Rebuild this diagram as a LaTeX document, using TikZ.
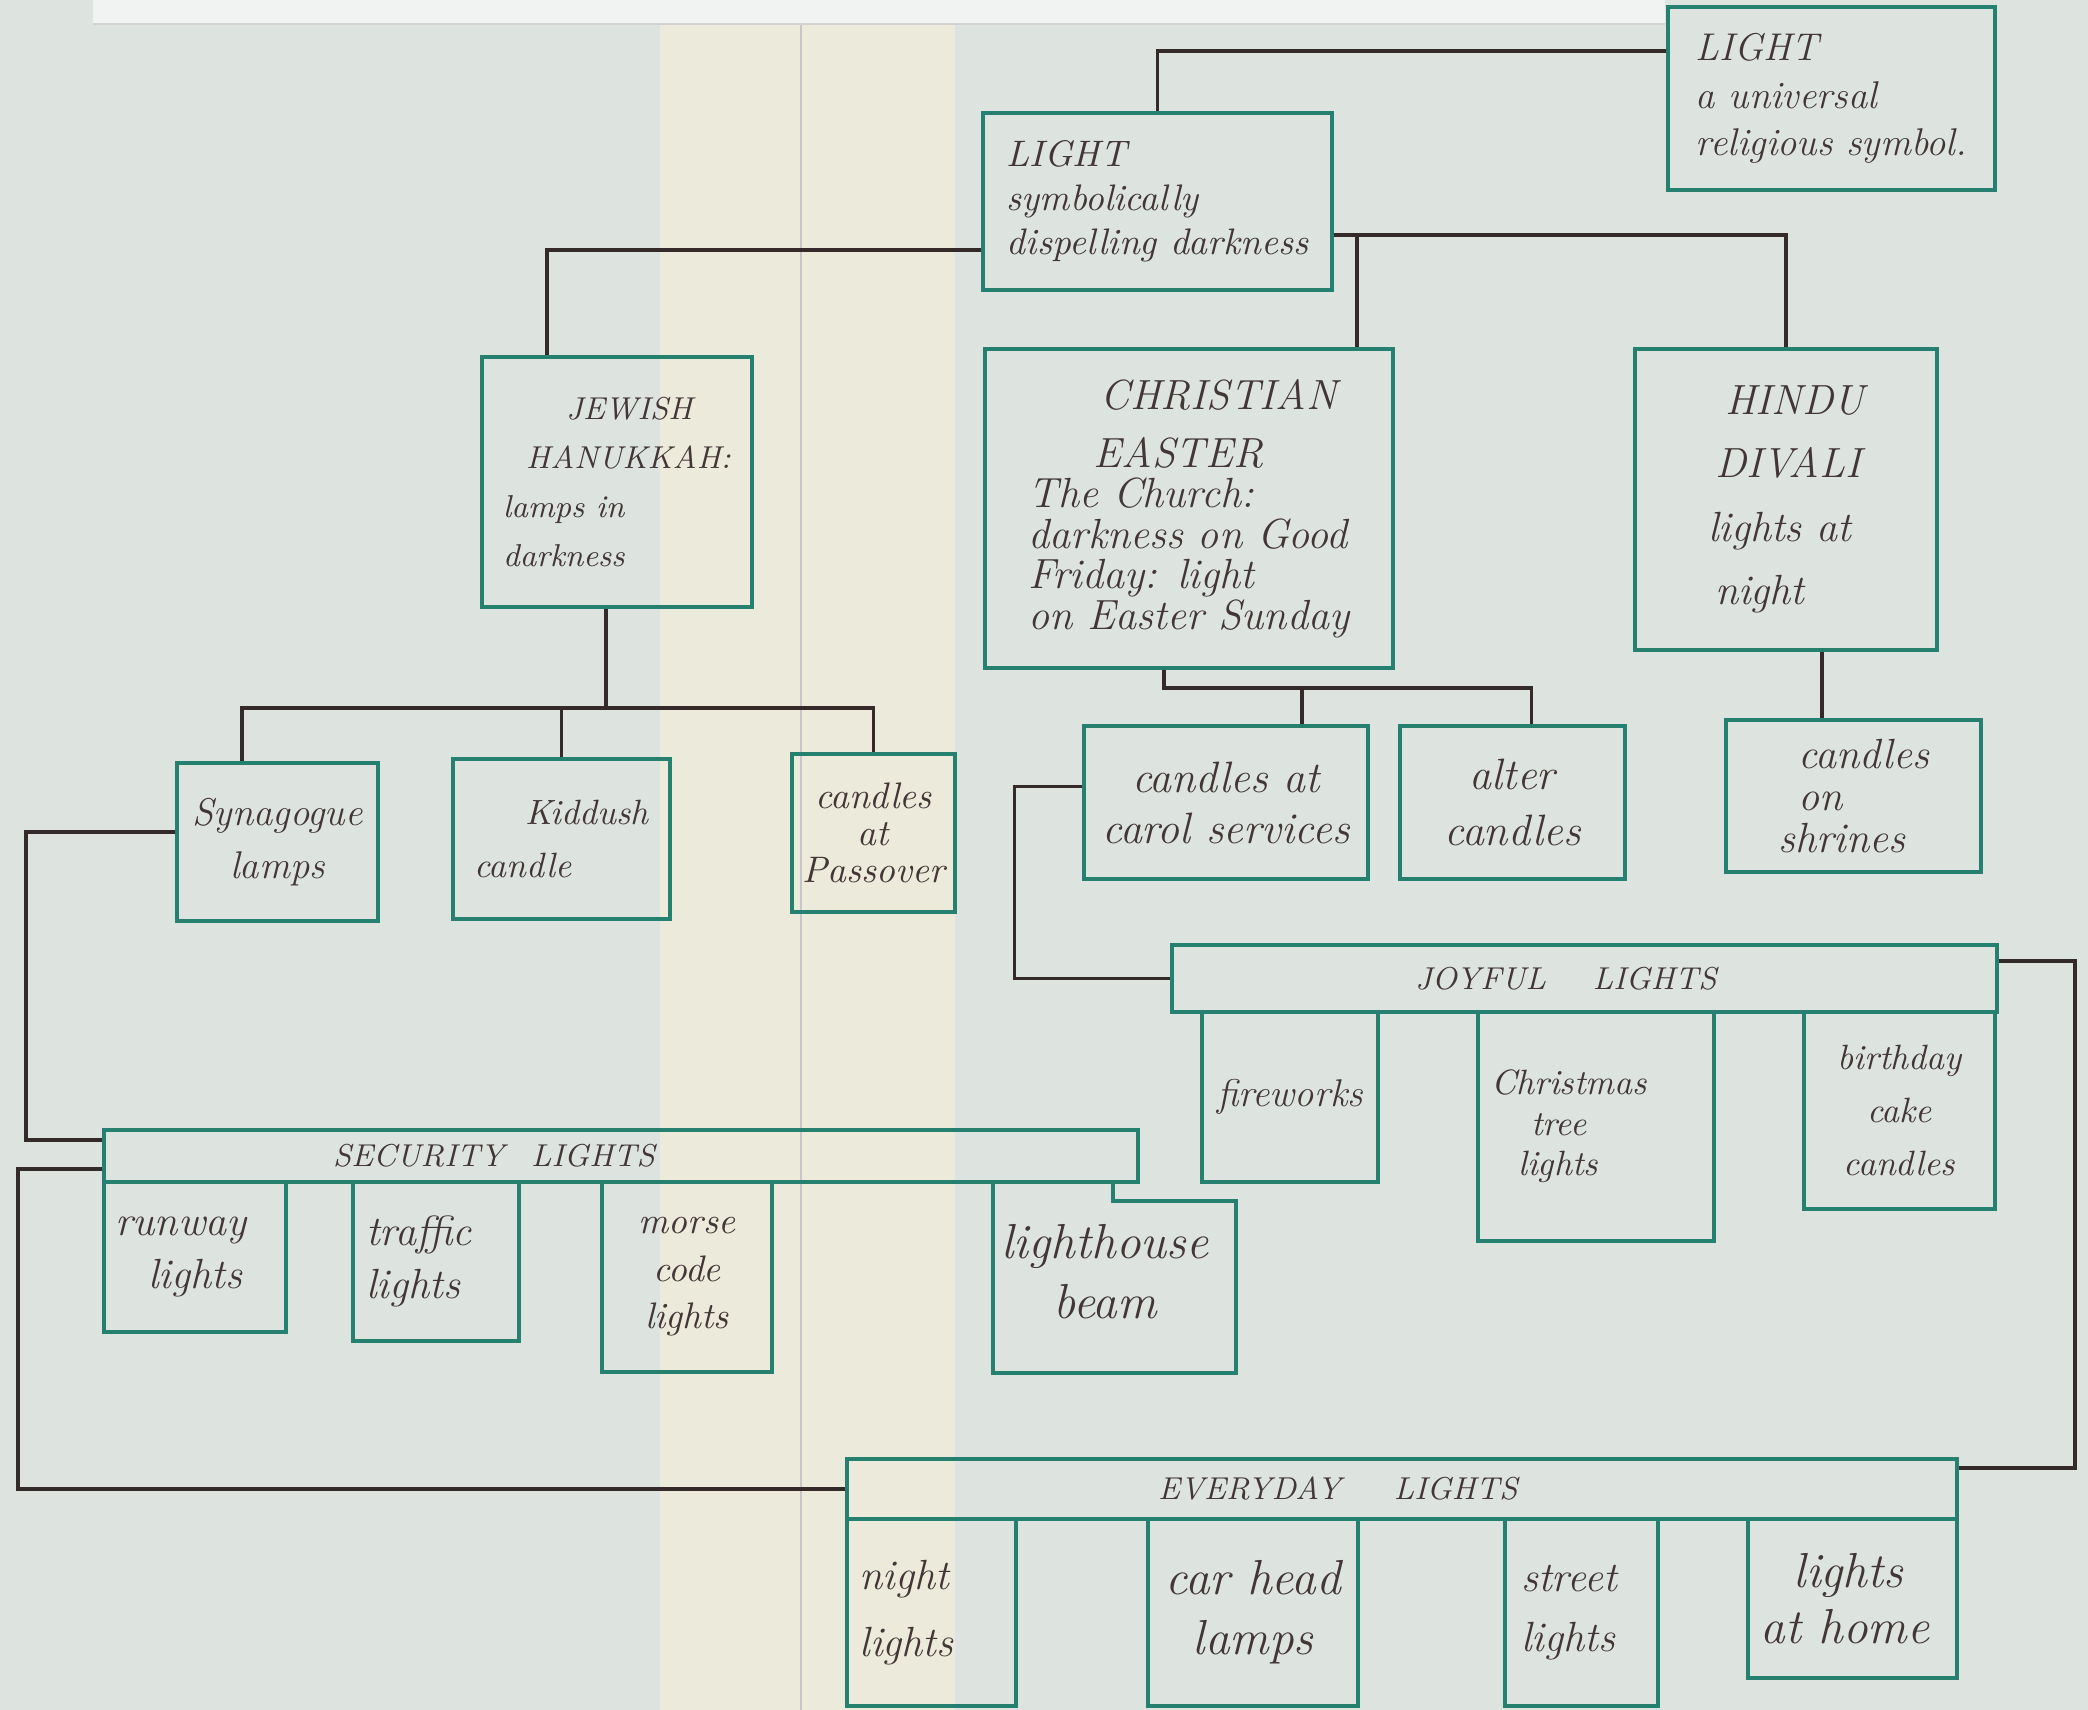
\documentclass[tikz,border=0pt]{standalone}
\usepackage{fontspec}

\definecolor{paper}{RGB}{221,228,224}
\definecolor{foldband}{RGB}{236,235,219}
\definecolor{penteal}{RGB}{38,128,112}
\definecolor{ink}{RGB}{66,54,54}
\definecolor{inkline}{RGB}{52,42,42}

\begin{document}
\begin{tikzpicture}[
    box/.style={draw=penteal, line width=0.9pt, inner sep=1mm, align=center,
      text=ink, font=\fontsize{12}{15}\selectfont\itshape},
    hdr/.style={box, align=left, font=\fontsize{9}{10}\selectfont\itshape},
    link/.style={draw=inkline, line width=1.1pt},
  ]
  \useasboundingbox (0,0) rectangle (20.88,-17.10);
  \clip (0,0) rectangle (20.88,-17.10);

  % paper, fold and the cut-off strip along the top
  \fill[paper] (0,0) rectangle (20.88,-17.10);
  \fill[foldband] (6.60,0) rectangle (9.55,-17.10);
  \draw[black!22, line width=0.6pt] (8.01,0) -- (8.01,-17.10);
  \fill[white!55!paper] (0.93,0) rectangle (16.65,-0.24);
  \draw[black!18] (0.93,-0.24) -- (16.65,-0.24);

  % top of the tree
  \node[box, minimum width=3.27cm, minimum height=1.83cm, align=left,
        font=\fontsize{11}{13.5}\selectfont\itshape] (univ) at (18.315,-0.985)
        {LIGHT\\a universal\\religious symbol.};
  \node[box, minimum width=3.49cm, minimum height=1.77cm, align=left,
        font=\fontsize{10.5}{12.5}\selectfont\itshape] (sym) at (11.575,-2.015)
        {LIGHT\\symbolically\\dispelling darkness};

  % the three festivals
  \node[box, minimum width=2.70cm, minimum height=2.50cm, align=left,
        font=\fontsize{9}{14}\selectfont\itshape] (jew) at (6.17,-4.82)
        {\hspace*{0.63cm}JEWISH\\\hspace*{0.23cm}HANUKKAH:\\lamps in\\darkness};
  \node[box, minimum width=4.08cm, minimum height=3.19cm, align=left,
        font=\fontsize{12}{11.5}\selectfont\itshape] (chr) at (11.89,-5.085)
        {\hspace*{0.72cm}CHRISTIAN\\[5pt]\hspace*{0.65cm}EASTER\\The Church:\\darkness on Good\\Friday: light\\on Easter Sunday};
  \node[box, minimum width=3.02cm, minimum height=3.01cm, align=left,
        font=\fontsize{12}{18}\selectfont\itshape] (hindu) at (17.86,-4.995)
        {\hspace*{0.17cm}HINDU\\\hspace*{0.07cm}DIVALI\\lights at\hspace*{0.8cm}\\\hspace*{0.07cm}night};

  % festival lights
  \node[box, minimum width=2.01cm, minimum height=1.58cm,
        font=\fontsize{11}{15}\selectfont\itshape] (syn) at (2.775,-8.42) {Synagogue\\lamps};
  \node[box, minimum width=2.17cm, minimum height=1.60cm, align=left,
        font=\fontsize{10}{15}\selectfont\itshape] (kid) at (5.615,-8.39) {\hspace*{0.51cm}Kiddush\\candle};
  \node[box, minimum width=1.63cm, minimum height=1.58cm,
        font=\fontsize{10.5}{10.5}\selectfont\itshape] (pass) at (8.735,-8.33) {candles\\at\\Passover};
  \node[box, minimum width=2.84cm, minimum height=1.53cm,
        font=\fontsize{12.5}{14.5}\selectfont\itshape] (carol) at (12.26,-8.025) {candles at\\carol services};
  \node[box, minimum width=2.25cm, minimum height=1.53cm,
        font=\fontsize{12.5}{16}\selectfont\itshape] (alt) at (15.125,-8.025) {alter\\candles};
  \node[box, minimum width=2.55cm, minimum height=1.52cm, align=left,
        font=\fontsize{12}{12}\selectfont\itshape] (shr) at (18.535,-7.96) {\hspace*{0.2cm}candles\\\hspace*{0.2cm}on\\shrines};

  % joyful lights
  \node[hdr, minimum width=8.25cm, minimum height=0.67cm, text width=8.05cm] (joy) at (15.845,-9.785)
        {\noindent\hspace*{2.33cm}JOYFUL\hspace{0.47cm}LIGHTS};
  \node[box, minimum width=1.76cm, minimum height=1.70cm,
        font=\fontsize{11}{13}\selectfont\itshape] (fire) at (12.90,-10.97) {fireworks};
  \node[box, minimum width=2.36cm, minimum height=2.29cm, align=left,
        font=\fontsize{10}{11.5}\selectfont\itshape] (xmas) at (15.96,-11.265)
        {Christmas\hspace*{0.54cm}\\\hspace*{0.4cm}tree\\\hspace*{0.27cm}lights};
  \node[box, minimum width=1.91cm, minimum height=1.97cm,
        font=\fontsize{10}{15}\selectfont\itshape] (bday) at (18.995,-11.105) {birthday\\cake\\candles};

  % security lights
  \node[hdr, minimum width=10.34cm, minimum height=0.52cm, text width=10.14cm] (sec) at (6.21,-11.56)
        {\noindent\hspace*{2.19cm}SECURITY\hspace{0.27cm}LIGHTS};
  \node[box, minimum width=1.82cm, minimum height=1.50cm, align=left] (run) at (1.95,-12.57)
        {runway\hspace*{0.28cm}\\\hspace*{0.33cm}lights};
  \node[box, minimum width=1.66cm, minimum height=1.59cm, align=left] (traf) at (4.36,-12.615)
        {traffic\hspace*{0.34cm}\\lights};
  \node[box, minimum width=1.70cm, minimum height=1.90cm,
        font=\fontsize{10.5}{13.5}\selectfont\itshape] (morse) at (6.87,-12.77) {morse\\code\\lights};
  \node[text=ink, align=center, font=\fontsize{14}{17}\selectfont\itshape] (lh) at (11.05,-12.72) {lighthouse\\beam};
  \draw[draw=penteal, line width=0.9pt] (9.93,-11.82) |- (12.36,-13.73) |- (11.13,-12.01) -- (11.13,-11.82);

  % everyday lights
  \node[hdr, minimum width=11.10cm, minimum height=0.60cm, text width=10.90cm] (every) at (14.02,-14.89)
        {\noindent\hspace*{3.01cm}EVERYDAY\hspace{0.53cm}LIGHTS};
  \node[box, minimum width=1.69cm, minimum height=1.87cm, align=left,
        font=\fontsize{12}{19}\selectfont\itshape] (night) at (9.315,-16.125) {night\\lights\hspace*{0.5cm}};
  \node[box, minimum width=2.10cm, minimum height=1.87cm,
        font=\fontsize{14}{17}\selectfont\itshape] (car) at (12.53,-16.125) {car head\\lamps};
  \node[box, minimum width=1.53cm, minimum height=1.87cm, align=left,
        font=\fontsize{12}{17}\selectfont\itshape] (street) at (15.815,-16.125) {street\hspace*{0.25cm}\\lights};
  \node[box, minimum width=2.09cm, minimum height=1.59cm, align=left,
        font=\fontsize{14}{16}\selectfont\itshape] (home) at (18.525,-15.985) {\hspace*{0.33cm}lights\\at home\hspace*{0.15cm}};

  % connectors
  \draw[link] ([yshift=-4.6mm]univ.north west) -| (sym.north);
  \draw[link] ([yshift=4.2mm]sym.south west) -| ([xshift=6.7mm]jew.north west);
  \draw[link] ([yshift=5.7mm]sym.south east) -| (hindu.north);
  \draw[link] ([xshift=-3.8mm]chr.north east) |- ([yshift=5.7mm]sym.south east);

  \coordinate (jbus) at (0,-7.08);
  \coordinate (jdrop) at ([xshift=-1.1mm]jew.south);
  \coordinate (sdrop) at ([xshift=6.7mm]syn.north west);
  \draw[link] (jdrop) -- (jdrop |- jbus);
  \draw[link] (sdrop) |- (jbus -| pass.north) -- (pass.north);
  \draw[link] (kid.north) -- (kid.north |- jbus);

  \coordinate (cbus) at (0,-6.88);
  \coordinate (cdrop) at ([xshift=-2.5mm]chr.south);
  \coordinate (cleft) at ([xshift=7.6mm]carol.north);
  \coordinate (cright) at ([xshift=1.9mm]alt.north);
  \draw[link] (cdrop) |- (cbus -| cright) -- (cright);
  \draw[link] (cleft) -- (cleft |- cbus);

  \coordinate (hdrop) at ([xshift=3.6mm]hindu.south);
  \draw[link] (hdrop) -- (hdrop |- shr.north);

  \draw[link] ([yshift=1.6mm]carol.west) -- ++(-0.68,0) |- (joy.west);
  \draw[link] ([yshift=-1.8mm]joy.north east) -- ++(0.76,0) |- ([yshift=-1.1mm]every.north east);
  \draw[link] ([yshift=1mm]syn.west) -- ++(-1.49,0) |- ([yshift=-1.2mm]sec.north west);
  \draw[link] ([yshift=1.5mm]sec.south west) -- ++(-0.84,0) |- (every.west);

\end{tikzpicture}
\end{document}
